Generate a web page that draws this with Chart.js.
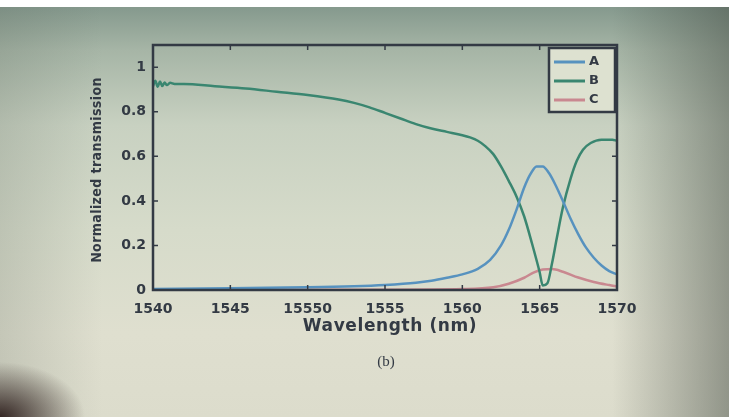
<!DOCTYPE html>
<html>
<head>
<meta charset="utf-8">
<script src="https://cdn.jsdelivr.net/npm/chart.js@4"></script>
<style>
  html, body { margin: 0; padding: 0; }
  #wrap {
    position: relative;
    width: 729px;
    height: 417px;
    overflow: hidden;
    background:
      linear-gradient(to bottom, #ffffff 0px, #ffffff 7px, transparent 7px),
      radial-gradient(ellipse 85px 55px at 0% 100%, rgba(45,30,28,0.95), rgba(45,30,28,0) 100%),
      linear-gradient(to left, rgba(70,78,70,0.5) 0%, rgba(70,78,70,0) 16%),
      linear-gradient(to right, rgba(90,100,90,0.2) 0%, rgba(90,100,90,0) 14%),
      linear-gradient(to bottom, #869a8e 2%, #a6b5a6 12%, #c8d1c1 30%, #d6dbca 55%, #dfdfcf 80%, #dcdccc 100%);
  }
  canvas { position: absolute; left: 0; top: 0; }
</style>
</head>
<body>
<div id="wrap"><canvas id="chart" width="729" height="417"></canvas></div>
<script>
// wavelength (nm) / normalized transmission
var wlA = [1540, 1545, 1550, 1553, 1555, 1557, 1558, 1559, 1560, 1561, 1561.8, 1562.5, 1563, 1563.5, 1564, 1564.4, 1564.8, 1565.2, 1565.6, 1566, 1566.5, 1567, 1567.5, 1568, 1568.5, 1569, 1569.5, 1570];
var valA = [0.005, 0.008, 0.012, 0.017, 0.023, 0.033, 0.042, 0.055, 0.07, 0.095, 0.135, 0.2, 0.27, 0.36, 0.46, 0.52, 0.555, 0.555, 0.525, 0.475, 0.4, 0.32, 0.25, 0.19, 0.145, 0.11, 0.085, 0.07];

var wlB = [1540, 1540.15, 1540.3, 1540.45, 1540.6, 1540.75, 1540.9, 1541.1, 1541.4, 1542, 1544, 1546, 1548, 1550, 1552, 1553, 1554, 1555, 1556, 1557, 1558, 1559, 1560, 1560.5, 1561, 1561.5, 1562, 1562.5, 1563, 1563.5, 1564, 1564.5, 1565, 1565.2, 1565.5, 1565.8, 1566.1, 1566.5, 1567, 1567.4, 1567.8, 1568.3, 1569, 1569.7, 1570];
var valB = [0.915, 0.94, 0.912, 0.936, 0.916, 0.932, 0.92, 0.93, 0.925, 0.925, 0.915, 0.905, 0.89, 0.875, 0.855, 0.84, 0.82, 0.795, 0.77, 0.745, 0.725, 0.71, 0.695, 0.685, 0.67, 0.645, 0.61, 0.555, 0.49, 0.42, 0.33, 0.21, 0.08, 0.02, 0.03, 0.12, 0.23, 0.37, 0.5, 0.58, 0.63, 0.66, 0.675, 0.675, 0.67];

var wlC = [1540, 1555, 1560, 1562, 1563, 1564, 1564.6, 1565.2, 1565.8, 1566.5, 1567.5, 1568.5, 1569.5, 1570];
var valC = [0, 0.001, 0.004, 0.012, 0.028, 0.055, 0.078, 0.092, 0.094, 0.082, 0.056, 0.036, 0.022, 0.016];

var seriesNames = ['A', 'B', 'C'];
var seriesColors = ['#5792bf', '#3a8670', '#c98890'];

var xTicks = [1540, 1545, 1550, 1555, 1560, 1565, 1570];
var xTickLabels = ['1540', '1545', '15550', '1555', '1560', '1565', '1570'];
var yTicks = [0, 0.2, 0.4, 0.6, 0.8, 1];
var yTickLabels = ['0', '0.2', '0.4', '0.6', '0.8', '1'];

var xTitle = 'Wavelength (nm)';
var yTitle = 'Normalized transmission';
var panelLabel = '(b)';

function pts(xs, ys) {
    var out = [];
    for (let i = 0; i < xs.length; i++) out.push({x: xs[i], y: ys[i]});
    return out;
}

var inkColor = '#333a44';

var framePlugin = {
    id: 'frame',
    afterDatasetsDraw(chart) {
        var ctx = chart.ctx;
        var a = chart.chartArea;
        var xs = chart.scales.x, ys = chart.scales.y;
        ctx.save();
        ctx.strokeStyle = inkColor;
        ctx.lineWidth = 2.5;
        ctx.strokeRect(a.left, a.top, a.right - a.left, a.bottom - a.top);
        // inward tick marks, matlab style
        ctx.lineWidth = 1.5;
        ctx.beginPath();
        for (let v of xTicks) {
            let px = xs.getPixelForValue(v);
            ctx.moveTo(px, a.bottom); ctx.lineTo(px, a.bottom - 5);
            ctx.moveTo(px, a.top); ctx.lineTo(px, a.top + 5);
        }
        for (let v of yTicks) {
            let py = ys.getPixelForValue(v);
            ctx.moveTo(a.left, py); ctx.lineTo(a.left + 5, py);
            ctx.moveTo(a.right, py); ctx.lineTo(a.right - 5, py);
        }
        ctx.stroke();

        // legend box in the upper right corner
        var lx = a.right - 68, ly = a.top + 3, lw = 66, lh = 64;
        ctx.fillStyle = '#dde1d0';
        ctx.fillRect(lx, ly, lw, lh);
        ctx.lineWidth = 2.5;
        ctx.strokeRect(lx, ly, lw, lh);
        ctx.font = 'bold 13px "DejaVu Sans"';
        ctx.textBaseline = 'middle';
        ctx.textAlign = 'left';
        for (let i = 0; i < seriesNames.length; i++) {
            let yy = ly + 14 + i * 19;
            ctx.strokeStyle = seriesColors[i];
            ctx.lineWidth = 3;
            ctx.beginPath();
            ctx.moveTo(lx + 5, yy); ctx.lineTo(lx + 36, yy);
            ctx.stroke();
            ctx.fillStyle = inkColor;
            ctx.fillText(seriesNames[i], lx + 40, yy);
        }
        ctx.restore();
    },
    afterDraw(chart) {
        var ctx = chart.ctx;
        ctx.save();
        ctx.fillStyle = inkColor;
        ctx.textAlign = 'center';
        ctx.textBaseline = 'middle';
        ctx.font = 'bold 17px "DejaVu Sans"';
        ctx.letterSpacing = '0.6px';
        ctx.fillText(xTitle, 390, 327);
        ctx.letterSpacing = '0px';
        ctx.font = '15px "Liberation Serif"';
        ctx.fillText(panelLabel, 386, 362);
        ctx.translate(97, 170);
        ctx.rotate(-Math.PI / 2);
        ctx.font = 'bold 14px "DejaVu Sans Condensed"';
        ctx.letterSpacing = '0.4px';
        ctx.fillText(yTitle, 0, 0);
        ctx.restore();
    }
};

var ctx = document.getElementById('chart').getContext('2d');

var myChart = new Chart(ctx, {
    type: 'line',
    data: {
        datasets: [0, 1, 2].map(i => ({
            label: seriesNames[i],
            data: pts([wlA, wlB, wlC][i], [valA, valB, valC][i]),
            borderColor: seriesColors[i],
            borderWidth: 2.5,
            pointRadius: 0,
            fill: false,
            cubicInterpolationMode: 'monotone'
        }))
    },
    options: {
        responsive: false,
        animation: false,
        devicePixelRatio: 1,
        layout: {
            padding: {left: 113, right: 112, top: 45, bottom: 97}
        },
        plugins: {
            legend: {display: false},
            tooltip: {enabled: false}
        },
        scales: {
            x: {
                type: 'linear',
                min: 1540,
                max: 1570,
                afterBuildTicks: s => { s.ticks = xTicks.map(v => ({value: v})); },
                afterFit: s => { s.height = 30; },
                grid: {display: false, drawTicks: false},
                border: {display: false},
                ticks: {
                    padding: 11,
                    color: inkColor,
                    font: {family: 'DejaVu Sans', size: 14, weight: 'bold'},
                    callback: (v) => xTickLabels[xTicks.indexOf(v)]
                }
            },
            y: {
                min: 0,
                max: 1.1,
                afterBuildTicks: s => { s.ticks = yTicks.map(v => ({value: v})); },
                afterFit: s => { s.width = 40; },
                grid: {display: false, drawTicks: false},
                border: {display: false},
                ticks: {
                    padding: 7,
                    color: inkColor,
                    font: {family: 'DejaVu Sans', size: 14, weight: 'bold'},
                    callback: (v) => yTickLabels[yTicks.indexOf(v)]
                }
            }
        }
    },
    plugins: [framePlugin]
});
</script>
</body>
</html>
